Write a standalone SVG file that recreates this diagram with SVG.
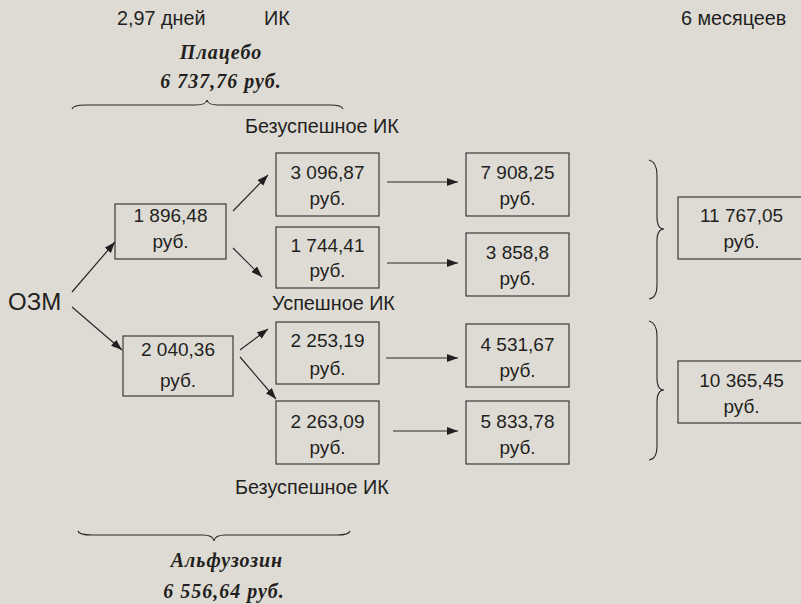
<svg xmlns="http://www.w3.org/2000/svg" width="801" height="604" viewBox="0 0 801 604">
<style>
.bg{fill:#dedbd5}
.box{fill:none;stroke:#3a3a3a;stroke-width:1.2}
.t{font-family:"Liberation Sans",Arial,sans-serif;font-size:19px;fill:#231f20;text-anchor:middle}
.lbl{font-family:"Liberation Sans",Arial,sans-serif;font-size:19.8px;fill:#231f20}
.big{font-family:"Liberation Sans",Arial,sans-serif;font-size:24px;fill:#231f20}
.ser{font-family:"Liberation Serif","Times New Roman",serif;font-size:20px;font-weight:bold;font-style:italic;fill:#231f20;text-anchor:middle;letter-spacing:1px}
.c{fill:none;stroke:#2a2a2a;stroke-width:1.2}
.br{fill:none;stroke:#2a2a2a;stroke-width:1.1}
</style>
<defs>
<marker id="ah" markerUnits="userSpaceOnUse" markerWidth="12" markerHeight="10" refX="11" refY="4" orient="auto">
<path d="M0,0 L11,4 L0,8 Z" fill="#231f20"/>
</marker>
</defs>
<rect class="bg" x="0" y="0" width="801" height="604"/>

<g id="labels">
<text class="lbl" x="117" y="25">2,97 дней</text>
<text class="lbl" x="264" y="25">ИК</text>
<text class="lbl" x="681" y="25">6 месяцеев</text>
<text class="ser" x="221" y="59">Плацебо</text>
<text class="ser" x="221" y="88">6 737,76 руб.</text>
<text class="lbl" x="245" y="133">Безуспешное ИК</text>
<text class="lbl" x="272" y="310">Успешное ИК</text>
<text class="lbl" x="235" y="494">Безуспешное ИК</text>
<text class="ser" x="227" y="567">Альфузозин</text>
<text class="ser" x="224" y="598">6 556,64 руб.</text>
</g>

<g id="braces">
<path class="br" d="M72,109 Q73,105 86,105 L196,105 Q206,105 207,100 Q208,105 218,105 L330,105 Q342,105 343,109"/>
<path class="br" d="M78,531 Q79,535 92,535 L203,535 Q213,535 214,541 Q215,535 225,535 L337,535 Q349,535 350,531"/>
<path class="br" d="M649,160 Q657,162 657,175 L657,217 Q657,229 664,229 Q657,229 657,241 L657,285 Q657,298 649,299"/>
<path class="br" d="M649,321 Q657,323 657,336 L657,378 Q657,390 664,390 Q657,390 657,402 L657,446 Q657,459 649,460"/>
</g>

<g id="n-ozm"><text class="big" x="8" y="310">ОЗМ</text></g>

<g id="n-1896">
<rect class="box" x="115" y="204" width="111" height="55"/>
<text class="t" x="170.5" y="222">1 896,48</text>
<text class="t" x="170.5" y="248">руб.</text>
</g>
<g id="n-2040">
<rect class="box" x="123" y="336" width="110" height="60"/>
<text class="t" x="178" y="356">2 040,36</text>
<text class="t" x="178" y="387">руб.</text>
</g>
<g id="n-3096">
<rect class="box" x="276" y="153" width="103" height="63"/>
<text class="t" x="327.5" y="179">3 096,87</text>
<text class="t" x="327.5" y="205">руб.</text>
</g>
<g id="n-1744">
<rect class="box" x="276" y="227" width="103" height="61"/>
<text class="t" x="327.5" y="251.5">1 744,41</text>
<text class="t" x="327.5" y="277">руб.</text>
</g>
<g id="n-2253">
<rect class="box" x="276" y="322" width="103" height="62"/>
<text class="t" x="327.5" y="347">2 253,19</text>
<text class="t" x="327.5" y="375">руб.</text>
</g>
<g id="n-2263">
<rect class="box" x="276" y="401" width="103" height="63"/>
<text class="t" x="327.5" y="427.5">2 263,09</text>
<text class="t" x="327.5" y="454">руб.</text>
</g>
<g id="n-7908">
<rect class="box" x="466" y="153" width="103" height="63"/>
<text class="t" x="517.5" y="179">7 908,25</text>
<text class="t" x="517.5" y="205">руб.</text>
</g>
<g id="n-3858">
<rect class="box" x="466" y="233" width="103" height="63"/>
<text class="t" x="517.5" y="259">3 858,8</text>
<text class="t" x="517.5" y="285">руб.</text>
</g>
<g id="n-4531">
<rect class="box" x="466" y="324" width="103" height="63"/>
<text class="t" x="517.5" y="350.5">4 531,67</text>
<text class="t" x="517.5" y="377">руб.</text>
</g>
<g id="n-5833">
<rect class="box" x="466" y="401" width="103" height="63"/>
<text class="t" x="517.5" y="427.5">5 833,78</text>
<text class="t" x="517.5" y="454">руб.</text>
</g>
<g id="n-11767">
<rect class="box" x="678" y="197" width="130" height="62"/>
<text class="t" x="741.5" y="221.5">11 767,05</text>
<text class="t" x="741.5" y="248">руб.</text>
</g>
<g id="n-10365">
<rect class="box" x="678" y="361" width="130" height="62"/>
<text class="t" x="741.5" y="387">10 365,45</text>
<text class="t" x="741.5" y="413">руб.</text>
</g>

<g id="connectors">
<line class="c" x1="72" y1="292" x2="115" y2="242" marker-end="url(#ah)"/>
<line class="c" x1="72" y1="307" x2="122" y2="350" marker-end="url(#ah)"/>
<line class="c" x1="233" y1="211" x2="268" y2="175" marker-end="url(#ah)"/>
<line class="c" x1="233" y1="248" x2="262" y2="277" marker-end="url(#ah)"/>
<line class="c" x1="240" y1="350" x2="268" y2="329" marker-end="url(#ah)"/>
<line class="c" x1="240" y1="357" x2="276" y2="399" marker-end="url(#ah)"/>
<line class="c" x1="387" y1="182" x2="458" y2="182" marker-end="url(#ah)"/>
<line class="c" x1="387" y1="263" x2="458" y2="263" marker-end="url(#ah)"/>
<line class="c" x1="386" y1="358" x2="458" y2="358" marker-end="url(#ah)"/>
<line class="c" x1="393" y1="431" x2="458" y2="431" marker-end="url(#ah)"/>
</g>
</svg>
